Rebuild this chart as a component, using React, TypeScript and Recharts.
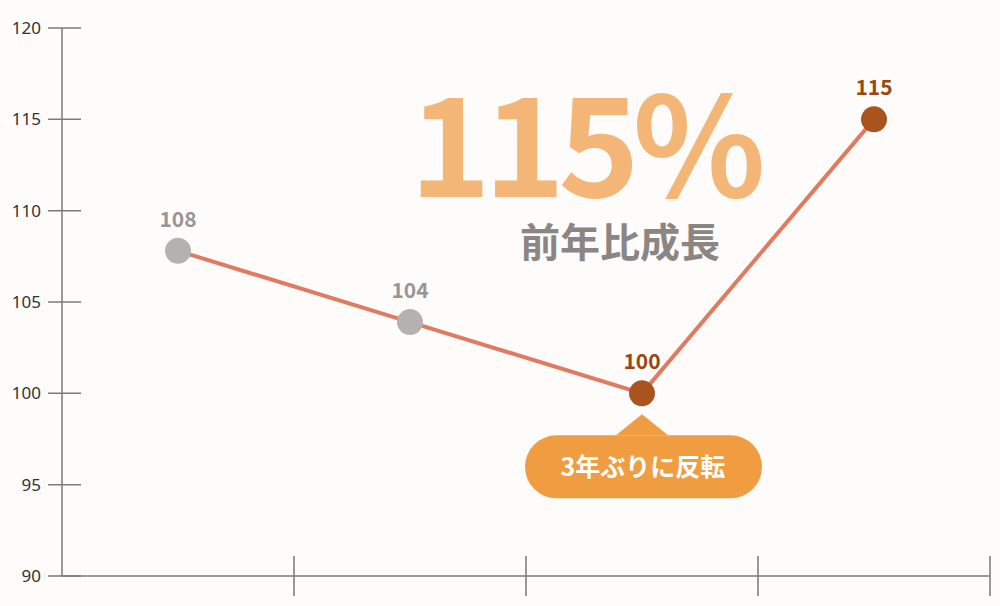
import React from 'react'
import { LineChart, Line, XAxis, YAxis, LabelList, ReferenceDot } from 'recharts'

const positions = [0.5, 1.5, 2.5, 3.5]
const values = [107.8, 103.9, 100, 115]
const valueLabels = ['108', '104', '100', '115']
const dotColors = ['#b5b1b0', '#b5b1b0', '#a9531f', '#a9531f']
const labelColors = ['#9a9594', '#9a9594', '#9a4810', '#9a4810']
const yTicks = [90, 95, 100, 105, 110, 115, 120]
const xTicks = [1, 2, 3, 4]
const headline = '115%'
const subHeadline = '前年比成長'
const calloutText = '3年ぶりに反転'
const calloutIndex = 2

const data = positions.map((x, i) => ({ x, value: values[i] }))

const JP = '"Noto Sans CJK JP", "Noto Sans", sans-serif'
const AXIS = '#7a7a7a'

const YTick = (props: any) => {
  const { x, y, payload } = props
  return (
    <g>
      <line x1={x - 14} x2={x + 19} y1={y} y2={y} stroke={AXIS} strokeWidth={1.5} />
      <text x={x - 21} y={y + 6} textAnchor="end" fontSize={17} fontFamily='"Noto Sans", sans-serif' fill="#333">
        {payload.value}
      </text>
    </g>
  )
}

const XTick = (props: any) => {
  const { x, y } = props
  return <line x1={x} x2={x} y1={y - 20} y2={y + 20} stroke={AXIS} strokeWidth={1.5} />
}

const Dot = (props: any) => {
  const { cx, cy, index } = props
  return <circle key={`d${index}`} cx={cx} cy={cy} r={13} fill={dotColors[index]} />
}

const ValueLabel = (props: any) => {
  const { x, y, index } = props
  return (
    <text x={x} y={y - 24} textAnchor="middle" fontSize={21} fontWeight={700} fontFamily={JP} fill={labelColors[index]}>
      {valueLabels[index]}
    </text>
  )
}

const Callout = (props: any) => {
  const { cx, cy } = props
  const top = cy + 42
  const bottom = cy + 105
  const left = cx - 117
  const right = cx + 120
  const r = (bottom - top) / 2
  return (
    <g>
      <path d={`M${cx - 26},${top} L${cx},${cy + 21} L${cx + 26},${top} Z`} fill="#f09c40" />
      <rect x={left} y={top} width={right - left} height={bottom - top} rx={r} ry={r} fill="#f09c40" />
      <text x={cx + 1} y={cy + 83} textAnchor="middle" fontSize={25} fontWeight={700} fontFamily={JP} fill="#fff">
        {calloutText}
      </text>
    </g>
  )
}

export default function App() {
  return (
    <div style={{ position: 'absolute', left: 0, top: 0, width: 1000, height: 606, background: '#fdfcfa' }}>
      <LineChart width={1000} height={606} data={data} margin={{ top: 28, right: 10, bottom: 0, left: 0 }}>
        <XAxis
          dataKey="x"
          type="number"
          domain={[0, 4]}
          ticks={xTicks}
          height={30}
          stroke={AXIS}
          axisLine={{ stroke: AXIS, strokeWidth: 1.5 }}
          tickLine={false}
          tickSize={0}
          tickMargin={0}
          tick={<XTick />}
        />
        <YAxis
          type="number"
          domain={[90, 120]}
          ticks={yTicks}
          width={62}
          axisLine={{ stroke: AXIS, strokeWidth: 1.5 }}
          tickLine={false}
          tickSize={0}
          tickMargin={0}
          tick={<YTick />}
        />
        <Line
          dataKey="value"
          stroke="#e07b62"
          strokeWidth={4}
          dot={Dot}
          activeDot={false}
          isAnimationActive={false}
        >
          <LabelList dataKey="value" content={<ValueLabel />} />
        </Line>
        <ReferenceDot x={positions[calloutIndex]} y={values[calloutIndex]} r={0} shape={<Callout />} />
      </LineChart>
      <svg width={1000} height={606} style={{ position: 'absolute', left: 0, top: 0, pointerEvents: 'none' }}>
        <text x={584} y={197} textAnchor="middle" fontSize={138} fontWeight={700} fontFamily={JP} fill="#f4b677" letterSpacing={-7}>
          {headline}
        </text>
        <text x={620} y={257} textAnchor="middle" fontSize={40} fontWeight={700} fontFamily={JP} fill="#8b8583">
          {subHeadline}
        </text>
      </svg>
    </div>
  )
}
